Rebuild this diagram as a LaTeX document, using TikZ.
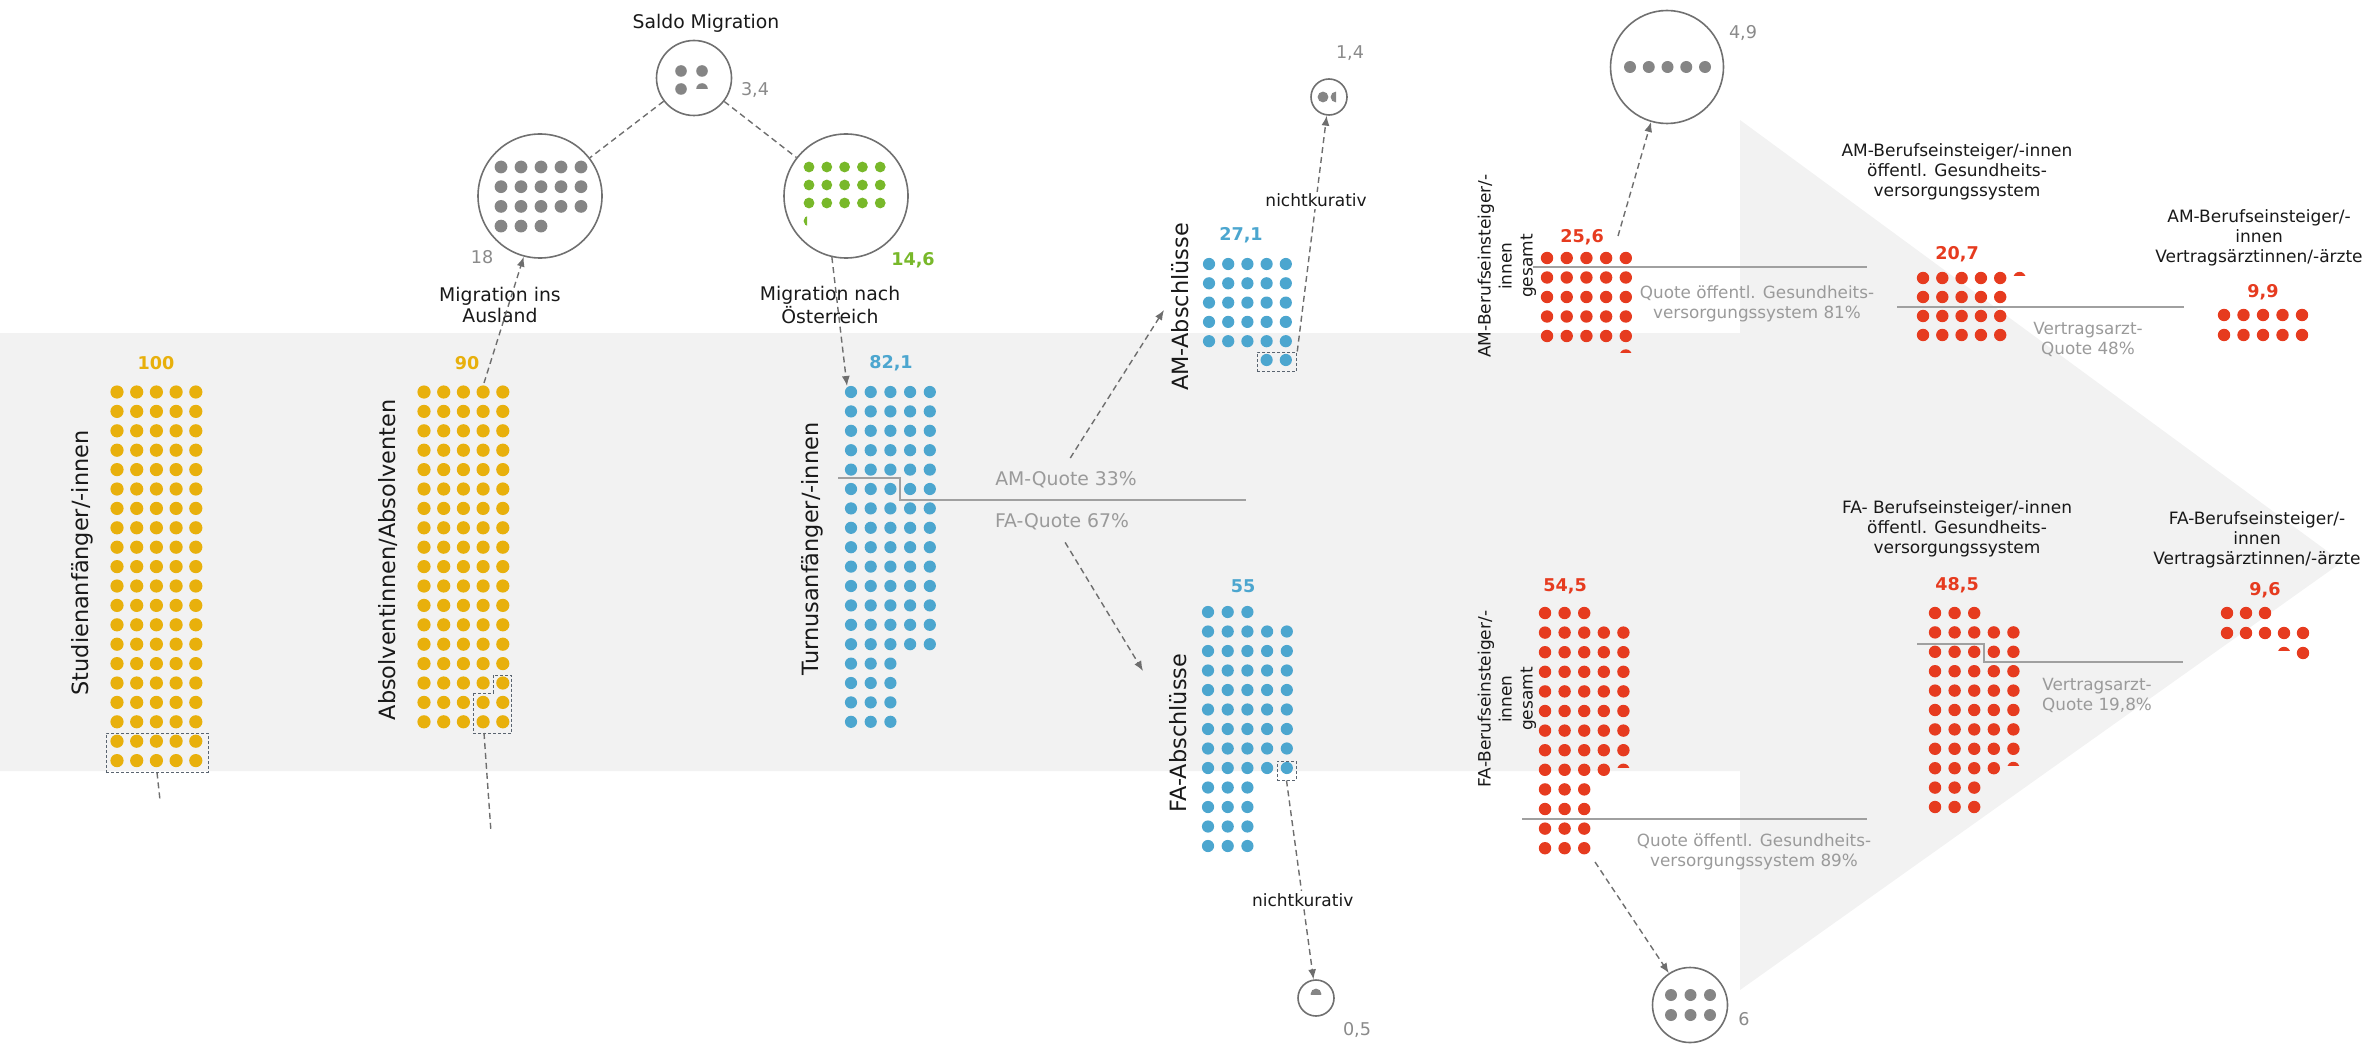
\documentclass[tikz,border=0pt]{standalone}
\usepackage{fontspec}
\setmainfont{DejaVu Sans}
\usetikzlibrary{arrows.meta}
\definecolor{gold}{HTML}{E8B00C}
\definecolor{sky}{HTML}{4CA6CF}
\definecolor{leaf}{HTML}{78B82A}
\definecolor{flame}{HTML}{E63B1F}
\definecolor{dotgrey}{HTML}{858585}
\definecolor{ringgrey}{HTML}{707070}
\definecolor{numgrey}{HTML}{8A8A8A}
\definecolor{quotegrey}{HTML}{9A9A9A}
\definecolor{flowgrey}{HTML}{6E6E6E}
\definecolor{splitgrey}{HTML}{A0A0A0}
\definecolor{boxgrey}{HTML}{5A6470}
\definecolor{band}{HTML}{F2F2F2}

\begin{document}
\begin{tikzpicture}[x=0.5pt,y=-0.5pt,%
    bubble/.style={circle,draw=ringgrey,line width=0.8pt,inner sep=0pt},
    count/.style={font=\fontsize{8.8}{10}\selectfont\bfseries},
    greycount/.style={text=numgrey,font=\fontsize{8.8}{10}\selectfont},
    sidelabel/.style={rotate=90,text=black!90,font=\fontsize{11.2}{13}\selectfont},
    redside/.style={rotate=90,align=center,text=black!90,font=\fontsize{8.5}{10.5}\selectfont},
    caption/.style={align=center,text=black!90,font=\fontsize{9.4}{10.5}\selectfont},
    head/.style={align=center,text=black!90,font=\fontsize{8.5}{10}\selectfont},
    quote/.style={align=center,text=quotegrey,font=\fontsize{8.4}{10}\selectfont},
    flow/.style={draw=flowgrey,line width=0.7pt,dash pattern=on 3pt off 2pt,-{Latex[length=5pt,width=4pt]}},
    link/.style={draw=flowgrey,line width=0.7pt,dash pattern=on 3pt off 2pt},
    split/.style={draw=splitgrey,line width=1pt},
    restbox/.style={draw=boxgrey,line width=0.5pt,dash pattern=on 1.5pt off 1pt,inner sep=0pt}]

  \useasboundingbox (0,0) rectangle (2369,1043);
  % grey band with the arrow head
  \fill[band] (0,333) -- (1740,333) -- (1740,120) -- (2342,562) -- (1740,990)
     -- (1740,771) -- (0,771) -- cycle;

  % studies: Studienanfaenger and Absolventen
  \foreach \x/\last in {117/19,424/17}
    \foreach \r in {0,...,\last}
      \foreach \c in {0,...,4}
        \fill[gold] (\x+\c*19.7,392+\r*19.4) circle[radius=6.6];
  \node[restbox,minimum width=51pt,minimum height=19.5pt] (studrest) at (157,752.5) {};
  \draw[restbox] (473.4,693) -- (493.7,693) -- (493.7,675) -- (511.7,675)
     -- (511.7,733) -- (473.4,733) -- cycle;
  \coordinate (absrest) at (484,733);
  \coordinate (abs-top) at (484,383);
  \coordinate (stud-end) at (160,800);
  \coordinate (abs-end) at (491,832);

  % Turnus
  \foreach \r in {0,...,17}{
    \pgfmathtruncatemacro\n{\r<14 ? 4 : 2}
    \foreach \c in {0,...,\n} \fill[sky] (851+\c*19.7,392+\r*19.4) circle[radius=6.1];
  }
  \coordinate (turnus-top) at (847,386);

  % AM-Abschluesse
  \foreach \r in {0,...,4}
    \foreach \c in {0,...,4}
      \fill[sky] (1209+\c*19.2,264+\r*19.3) circle[radius=6.1];
  \foreach \c in {3,4} \fill[sky] (1209+\c*19.2,360) circle[radius=6.1];
  \node[restbox,minimum width=19.75pt,minimum height=9.5pt] (amrest) at (1277,361.5) {};

  % FA-Abschluesse
  \foreach \r in {0,...,12}{
    \pgfmathtruncatemacro\n{(\r>0)*(\r<9)*2+2}
    \foreach \c in {0,...,\n} \fill[sky] (1208+\c*19.7,612+\r*19.5) circle[radius=6.1];
  }
  \node[restbox,minimum size=9.5pt] (farest) at (1286.5,770.5) {};

  % AM Berufseinsteiger
  \foreach \r in {0,...,4}
    \foreach \c in {0,...,4}
      \fill[flame] (1547+\c*19.7,258+\r*19.5) circle[radius=6.2];
  \begin{scope}\clip (1618,348) rectangle (1634,352.5);
    \fill[flame] (1625.8,355.5) circle[radius=6.2];\end{scope}
  \foreach \r in {0,...,3}
    \foreach \c in {0,...,4}
      \fill[flame] (1923+\c*19.3,278+\r*19) circle[radius=6.2];
  \begin{scope}\clip (2012,270) rectangle (2028,275);
    \fill[flame] (2019.5,278) circle[radius=6.2];\end{scope}
  \foreach \r in {0,1}
    \foreach \c in {0,...,4}
      \fill[flame] (2224+\c*19.5,315+\r*20) circle[radius=6.2];
  \coordinate (amg-top) at (1618,236);

  % FA Berufseinsteiger
  \foreach \x/\last/\dy in {1545/12/19.6,1935/10/19.4}
    \foreach \r in {0,...,\last}{
      \pgfmathtruncatemacro\n{(\r>0)*(\r<8)*2+(\r==8)+2}
      \foreach \c in {0,...,\n} \fill[flame] (\x+\c*19.6,613+\r*\dy) circle[radius=6.2];
    }
  \begin{scope}\clip (1616,762) rectangle (1632,767);
    \fill[flame] (1623.4,769.8) circle[radius=6.2];\end{scope}
  \begin{scope}\clip (2006,760) rectangle (2022,765.5);
    \fill[flame] (2013.4,768) circle[radius=6.2];\end{scope}
  \foreach \c in {0,1,2} \fill[flame] (2227+\c*19,613) circle[radius=6.2];
  \foreach \c in {0,...,4} \fill[flame] (2227+\c*19,633) circle[radius=6.2];
  \fill[flame] (2303,653) circle[radius=6.2];
  \begin{scope}\clip (2276,645) rectangle (2292,650.5);
    \fill[flame] (2284,653) circle[radius=6.2];\end{scope}
  \coordinate (fag-bottom) at (1595,862);

  % migration circles
  \node[bubble,minimum size=37.5pt] (saldo) at (694,78) {};
  \foreach \x/\y in {681/71,702/71,681/89} \fill[dotgrey] (\x,\y) circle[radius=5.8];
  \begin{scope}\clip (695,81) rectangle (709,89);
    \fill[dotgrey] (702,89) circle[radius=5.8];\end{scope}
  \node[bubble,minimum size=62pt] (ausland) at (540,196) {};
  \foreach \r/\n in {0/4,1/4,2/4,3/2}
    \foreach \c in {0,...,\n} \fill[dotgrey] (501+\c*20,167+\r*19.7) circle[radius=6.4];
  \node[bubble,minimum size=62pt] (oesterreich) at (846,196) {};
  \foreach \r in {0,1,2}
    \foreach \c in {0,...,4} \fill[leaf] (809+\c*17.8,167+\r*18) circle[radius=5.4];
  \begin{scope}\clip (803,214) rectangle (807,228);
    \fill[leaf] (809,221) circle[radius=5.4];\end{scope}

  % nichtkurativ circles
  \node[bubble,minimum size=18pt] (nkam) at (1329,97) {};
  \fill[dotgrey] (1323,97) circle[radius=5.4];
  \begin{scope}\clip (1329,90) rectangle (1336,104);
    \fill[dotgrey] (1336,97) circle[radius=5.4];\end{scope}
  \node[bubble,minimum size=18pt] (nkfa) at (1316,998) {};
  \begin{scope}\clip (1309,987) rectangle (1323,994);
    \fill[dotgrey] (1316,994) circle[radius=5.4];\end{scope}

  % outflow circles
  \node[bubble,minimum size=56.5pt] (amout) at (1667,67) {};
  \foreach \c in {0,...,4} \fill[dotgrey] (1630+\c*18.75,67) circle[radius=6];
  \node[bubble,minimum size=37.5pt] (faout) at (1690,1005) {};
  \foreach \r in {0,1}
    \foreach \c in {0,1,2} \fill[dotgrey] (1671+\c*19.5,995+\r*20) circle[radius=6];

  % quota lines
  \draw[split] (838,478) -- (900,478) -- (900,500) -- (1246,500);
  \draw[split] (1533,267) -- (1867,267);
  \draw[split] (1897,307) -- (2184,307);
  \draw[split] (1522,819) -- (1867,819);
  \draw[split] (1917,644) -- (1984,644) -- (1984,662) -- (2183,662);

  % labels
  \node[caption] (t-saldo) at (706,23) {Saldo Migration};
  \node[caption] (t-ausland) at (500,305) {Migration ins\\Ausland};
  \node[caption] (t-oesterreich) at (830,305) {Migration nach\\Österreich};
  \node[sidelabel] (l-stud) at (82,563) {Studienanfänger/-innen};
  \node[sidelabel] (l-abs) at (388,560) {Absolventinnen/Absolventen};
  \node[sidelabel] (l-turnus) at (812,549) {Turnusanfänger/-innen};
  \node[sidelabel] (l-am) at (1180,307) {AM-Abschlüsse};
  \node[sidelabel] (l-fa) at (1178,733) {FA-Abschlüsse};
  \node[quote,font=\fontsize{9.4}{11}\selectfont] (amquote) at (1066,480) {AM-Quote 33\%};
  \node[quote,font=\fontsize{9.4}{11}\selectfont] (faquote) at (1062,522) {FA-Quote 67\%};
  \node[redside] (l-amg) at (1507,266) {AM-Berufseinsteiger/-\\innen\\gesamt};
  \node[redside] (l-fag) at (1507,699) {FA-Berufseinsteiger/-\\innen\\gesamt};
  \node[quote] (q-amg) at (1757,304) {Quote öffentl. Gesundheits-\\versorgungssystem 81\%};
  \node[quote] (q-fag) at (1754,852) {Quote öffentl. Gesundheits-\\versorgungssystem 89\%};
  \node[quote] (q-amv) at (2088,339) {Vertragsarzt-\\Quote 48\%};
  \node[quote] (q-fav) at (2097,695) {Vertragsarzt-\\Quote 19,8\%};
  \node[head] (t-amoe) at (1957,172) {AM-Berufseinsteiger/-innen\\öffentl. Gesundheits-\\versorgungssystem};
  \node[head] (t-amv) at (2259,238) {AM-Berufseinsteiger/-\\innen\\Vertragsärztinnen/-ärzte};
  \node[head] (t-faoe) at (1957,529) {FA- Berufseinsteiger/-innen\\öffentl. Gesundheits-\\versorgungssystem};
  \node[head] (t-fav) at (2257,540) {FA-Berufseinsteiger/-\\innen\\Vertragsärztinnen/-ärzte};

  % values
  \node[count,text=gold] (n-stud) at (156,363) {100};
  \node[count,text=gold] (n-abs) at (467,363) {90};
  \node[count,text=sky] (n-turnus) at (891,363) {82,1};
  \node[count,text=sky] (n-am) at (1241,235) {27,1};
  \node[count,text=sky] (n-fa) at (1243,586) {55};
  \node[count,text=leaf] (n-oe) at (913,260) {14,6};
  \node[count,text=flame] (n-amg) at (1582,237) {25,6};
  \node[count,text=flame] (n-amoe) at (1957,254) {20,7};
  \node[count,text=flame] (n-amv) at (2263,292) {9,9};
  \node[count,text=flame] (n-fag) at (1565,586) {54,5};
  \node[count,text=flame] (n-faoe) at (1957,585) {48,5};
  \node[count,text=flame] (n-fav) at (2265,590) {9,6};
  \node[greycount] (n-saldo) at (755,90) {3,4};
  \node[greycount] (n-ausland) at (482,257) {18};
  \node[greycount] (n-nkam) at (1350,53) {1,4};
  \node[greycount] (n-nkfa) at (1357,1030) {0,5};
  \node[greycount] (n-amout) at (1743,33) {4,9};
  \node[greycount] (n-faout) at (1744,1019) {6};

  % connectors
  \coordinate (am-in) at (1164,310);
  \coordinate (fa-in) at (1143,671);
  \draw[link] (saldo) -- (ausland);
  \draw[link] (saldo) -- (oesterreich);
  \draw[flow] (abs-top) -- (ausland.-105);
  \draw[flow] (oesterreich.-103) -- (turnus-top);
  \draw[link] (studrest.south) -- (stud-end);
  \draw[link] (absrest) -- (abs-end);
  \draw[flow,shorten <=4pt] (amquote.north) -- (am-in);
  \draw[flow,shorten <=3pt] (faquote.south) -- (fa-in);
  \draw[flow] (amrest.north east) -- node[head,fill=white,pos=.64,inner sep=1pt] {nichtkurativ} (nkam);
  \draw[flow] (farest.south) -- node[head,fill=white,pos=.6,inner sep=1pt] {nichtkurativ} (nkfa);
  \draw[flow] (amg-top) -- (amout);
  \draw[flow] (fag-bottom) -- (faout);
\end{tikzpicture}
\end{document}
